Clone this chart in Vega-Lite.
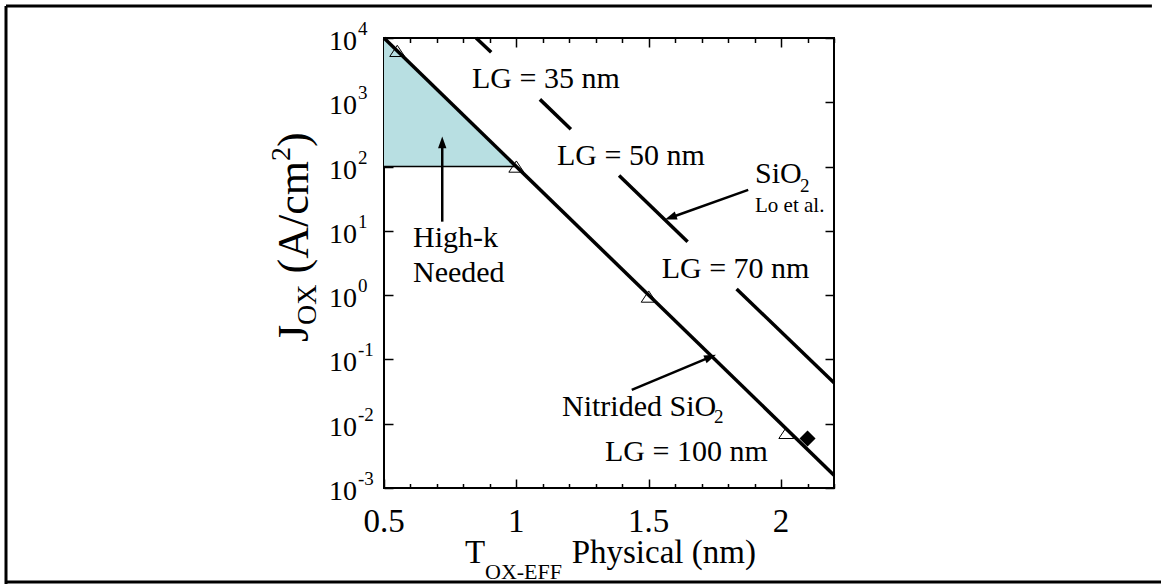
{
  "$schema": "https://vega.github.io/schema/vega-lite/v6.json",
  "width": 450,
  "height": 450,
  "autosize": "none",
  "padding": {"left": 384, "top": 38, "right": 327, "bottom": 96},
  "background": "white",
  "config": {
    "font": "Liberation Serif",
    "view": {"stroke": "black", "strokeWidth": 2},
    "text": {"font": "Liberation Serif", "color": "black"}
  },
  "datasets": {
    "frame": [
      {"part": "top", "t": -0.928, "t2": 3.401, "j": 31480, "j2": 31480},
      {"part": "left", "t": -0.928, "t2": -0.928, "j": 31480, "j2": 0.000026},
      {"part": "bottom", "t": -0.928, "t2": 3.45, "j": 0.0000345, "j2": 0.0000345}
    ],
    "shade": [
      {"t": 0.5, "j": 10000, "j0": 100},
      {"t": 1.0, "j": 100, "j0": 100}
    ],
    "base": [{"t": 0.5, "t2": 1.0, "j": 100}],
    "curves": [
      {"seg": "nitrided", "t": 0.5, "j": 10000},
      {"seg": "nitrided", "t": 2.2, "j": 0.001585},
      {"seg": "lo-a", "t": 0.848, "j": 10000},
      {"seg": "lo-a", "t": 0.905, "j": 5980},
      {"seg": "lo-b", "t": 1.089, "j": 1110},
      {"seg": "lo-b", "t": 1.206, "j": 382},
      {"seg": "lo-c", "t": 1.388, "j": 72.4},
      {"seg": "lo-c", "t": 1.647, "j": 6.78},
      {"seg": "lo-d", "t": 1.832, "j": 1.25},
      {"seg": "lo-d", "t": 2.2, "j": 0.0433}
    ],
    "measured": [
      {"t": 0.55, "j": 6300},
      {"t": 1.0, "j": 100},
      {"t": 1.5, "j": 0.95},
      {"t": 2.02, "j": 0.0072}
    ],
    "device": [{"t": 2.10, "j": 0.0059}],
    "shafts": [
      {"arrow": "highk", "t": 0.72, "j": 13.9},
      {"arrow": "highk", "t": 0.72, "j": 229},
      {"arrow": "lo", "t": 1.876, "j": 43.3},
      {"arrow": "lo", "t": 1.5865, "j": 16.3},
      {"arrow": "nit", "t": 1.436, "j": 0.0335},
      {"arrow": "nit", "t": 1.7297, "j": 0.1076}
    ],
    "heads": [
      {"arrow": "highk", "t": 0.72, "j": 229},
      {"arrow": "lo", "t": 1.5865, "j": 16.3},
      {"arrow": "nit", "t": 1.7297, "j": 0.1076}
    ],
    "notes": [
      {"text": "LG = 35 nm", "t": 0.8325, "j": 1667},
      {"text": "LG = 50 nm", "t": 1.1536, "j": 105.8},
      {"text": "LG = 70 nm", "t": 1.549, "j": 1.85},
      {"text": "Nitrided SiO", "t": 1.1725, "j": 0.01318},
      {"text": "LG = 100 nm", "t": 1.335, "j": 0.00266},
      {"text": "SiO", "t": 1.9016, "j": 55.5},
      {"text": "High-k", "t": 0.6096, "j": 5.67},
      {"text": "Needed", "t": 0.6096, "j": 1.618}
    ],
    "subscripts": [
      {"text": "2", "t": 1.747, "j": 0.01026},
      {"text": "2", "t": 2.0716, "j": 40.6}
    ],
    "smallnotes": [
      {"text": "Lo et al.", "t": 1.9016, "j": 19.87}
    ],
    "xlabels": [
      {"v": 0.5, "label": "0.5"},
      {"v": 1.0, "label": "1"},
      {"v": 1.5, "label": "1.5"},
      {"v": 2.0, "label": "2"}
    ],
    "ylabels": [
      {"v": 10000, "e": "4"},
      {"v": 1000, "e": "3"},
      {"v": 100, "e": "2"},
      {"v": 10, "e": "1"},
      {"v": 1, "e": "0"},
      {"v": 0.1, "e": "-1"},
      {"v": 0.01, "e": "-2"},
      {"v": 0.001, "e": "-3"}
    ],
    "xtitle": [
      {"text": "T", "size": "main", "t": 0.806, "j": 0.0000689},
      {"text": "OX-EFF", "size": "sub", "t": 0.8816, "j": 0.0000378},
      {"text": "Physical (nm)", "size": "main", "t": 1.209, "j": 0.0000689}
    ],
    "ytitle": [
      {"text": "J", "size": "main", "t": 0.2129, "j": 0.1866},
      {"text": "OX", "size": "sub", "t": 0.2431, "j": 0.3444},
      {"text": "(A/cm", "size": "main", "t": 0.2129, "j": 2.171},
      {"text": "2", "size": "sub", "t": 0.1449, "j": 121.6},
      {"text": ")", "size": "main", "t": 0.2129, "j": 200.9}
    ]
  },
  "resolve": {"axis": {"x": "independent", "y": "independent"}},
  "layer": [
    {
      "data": {"name": "shade"},
      "mark": {"type": "area", "color": "#b8dfe2", "opacity": 1},
      "encoding": {
        "x": {"field": "t", "type": "quantitative", "scale": {"domain": [0.5, 2.2], "nice": false, "zero": false},
          "axis": {"orient": "bottom", "values": [0.5, 0.6, 0.7, 0.8, 0.9, 1.0, 1.1, 1.2, 1.3, 1.4, 1.5, 1.6, 1.7, 1.8, 1.9, 2.0, 2.1, 2.2],
            "labels": false, "domain": false, "grid": false, "title": null, "tickColor": "black", "tickWidth": 1.5,
            "tickSize": {"condition": {"test": "abs(datum.value * 2 - round(datum.value * 2)) < 0.01", "value": -9}, "value": -4.5}}},
        "y": {"field": "j", "type": "quantitative", "stack": null, "scale": {"type": "log", "domain": [0.001, 10000], "nice": false},
          "axis": {"orient": "left", "values": [0.001, 0.01, 0.1, 1, 10, 100, 1000, 10000], "labels": false, "domain": false,
            "grid": false, "title": null, "tickColor": "black", "tickWidth": 1.5, "tickSize": -9}},
        "y2": {"field": "j0"}
      }
    },
    {
      "data": {"name": "base"},
      "mark": {"type": "rule", "color": "black", "strokeWidth": 1.5},
      "encoding": {
        "x": {"field": "t", "type": "quantitative", "scale": {"domain": [0.5, 2.2], "nice": false, "zero": false},
          "axis": {"orient": "top", "values": [0.5, 0.6, 0.7, 0.8, 0.9, 1.0, 1.1, 1.2, 1.3, 1.4, 1.5, 1.6, 1.7, 1.8, 1.9, 2.0, 2.1, 2.2],
            "labels": false, "domain": false, "grid": false, "title": null, "tickColor": "black", "tickWidth": 1.5,
            "tickSize": {"condition": {"test": "abs(datum.value * 2 - round(datum.value * 2)) < 0.01", "value": -9}, "value": -4.5}}},
        "x2": {"field": "t2"},
        "y": {"field": "j", "type": "quantitative", "scale": {"type": "log", "domain": [0.001, 10000], "nice": false},
          "axis": {"orient": "right", "values": [0.001, 0.01, 0.1, 1, 10, 100, 1000, 10000], "labels": false, "domain": false,
            "grid": false, "title": null, "tickColor": "black", "tickWidth": 1.5, "tickSize": -9}}
      }
    },
    {
      "data": {"name": "measured"},
      "mark": {"type": "point", "shape": "M0,-0.75L1,0.75L-1,0.75Z", "filled": false, "color": "black", "strokeWidth": 1, "size": 225, "opacity": 1},
      "encoding": {
        "x": {"field": "t", "type": "quantitative", "scale": {"domain": [0.5, 2.2], "nice": false, "zero": false}, "axis": null},
        "y": {"field": "j", "type": "quantitative", "scale": {"type": "log", "domain": [0.001, 10000], "nice": false}, "axis": null}
      }
    },
    {
      "data": {"name": "curves"},
      "mark": {"type": "line", "color": "black", "strokeWidth": 3.5, "strokeCap": "butt"},
      "encoding": {
        "x": {"field": "t", "type": "quantitative", "scale": {"domain": [0.5, 2.2], "nice": false, "zero": false}, "axis": null},
        "y": {"field": "j", "type": "quantitative", "scale": {"type": "log", "domain": [0.001, 10000], "nice": false}, "axis": null},
        "detail": {"field": "seg", "type": "nominal"}
      }
    },
    {
      "data": {"name": "device"},
      "mark": {"type": "point", "shape": "diamond", "filled": true, "color": "black", "size": 260, "opacity": 1},
      "encoding": {
        "x": {"field": "t", "type": "quantitative", "scale": {"domain": [0.5, 2.2], "nice": false, "zero": false}, "axis": null},
        "y": {"field": "j", "type": "quantitative", "scale": {"type": "log", "domain": [0.001, 10000], "nice": false}, "axis": null}
      }
    },
    {
      "data": {"name": "shafts"},
      "mark": {"type": "line", "color": "black", "strokeWidth": 2.5, "strokeCap": "butt"},
      "encoding": {
        "x": {"field": "t", "type": "quantitative", "scale": {"domain": [0.5, 2.2], "nice": false, "zero": false}, "axis": null},
        "y": {"field": "j", "type": "quantitative", "scale": {"type": "log", "domain": [0.001, 10000], "nice": false}, "axis": null},
        "detail": {"field": "arrow", "type": "nominal"}
      }
    },
    {
      "data": {"name": "heads"},
      "transform": [{"filter": "datum.arrow === 'highk'"}],
      "mark": {"type": "point", "shape": "M0,-1L0.6,0.7L-0.6,0.7Z", "filled": true, "color": "black", "size": 196, "angle": 0, "opacity": 1},
      "encoding": {
        "x": {"field": "t", "type": "quantitative", "scale": {"domain": [0.5, 2.2], "nice": false, "zero": false}, "axis": null},
        "y": {"field": "j", "type": "quantitative", "scale": {"type": "log", "domain": [0.001, 10000], "nice": false}, "axis": null}
      }
    },
    {
      "data": {"name": "heads"},
      "transform": [{"filter": "datum.arrow === 'lo'"}],
      "mark": {"type": "point", "shape": "M0,-1L0.6,0.7L-0.6,0.7Z", "filled": true, "color": "black", "size": 196, "angle": 250, "opacity": 1},
      "encoding": {
        "x": {"field": "t", "type": "quantitative", "scale": {"domain": [0.5, 2.2], "nice": false, "zero": false}, "axis": null},
        "y": {"field": "j", "type": "quantitative", "scale": {"type": "log", "domain": [0.001, 10000], "nice": false}, "axis": null}
      }
    },
    {
      "data": {"name": "heads"},
      "transform": [{"filter": "datum.arrow === 'nit'"}],
      "mark": {"type": "point", "shape": "M0,-1L0.6,0.7L-0.6,0.7Z", "filled": true, "color": "black", "size": 196, "angle": 67.5, "opacity": 1},
      "encoding": {
        "x": {"field": "t", "type": "quantitative", "scale": {"domain": [0.5, 2.2], "nice": false, "zero": false}, "axis": null},
        "y": {"field": "j", "type": "quantitative", "scale": {"type": "log", "domain": [0.001, 10000], "nice": false}, "axis": null}
      }
    },
    {
      "data": {"name": "notes"},
      "mark": {"type": "text", "font": "Liberation Serif", "fontSize": 30, "align": "left", "baseline": "alphabetic"},
      "encoding": {
        "x": {"field": "t", "type": "quantitative", "scale": {"domain": [0.5, 2.2], "nice": false, "zero": false}, "axis": null},
        "y": {"field": "j", "type": "quantitative", "scale": {"type": "log", "domain": [0.001, 10000], "nice": false}, "axis": null},
        "text": {"field": "text"}
      }
    },
    {
      "data": {"name": "subscripts"},
      "mark": {"type": "text", "font": "Liberation Serif", "fontSize": 19, "align": "left", "baseline": "alphabetic"},
      "encoding": {
        "x": {"field": "t", "type": "quantitative", "scale": {"domain": [0.5, 2.2], "nice": false, "zero": false}, "axis": null},
        "y": {"field": "j", "type": "quantitative", "scale": {"type": "log", "domain": [0.001, 10000], "nice": false}, "axis": null},
        "text": {"field": "text"}
      }
    },
    {
      "data": {"name": "smallnotes"},
      "mark": {"type": "text", "font": "Liberation Serif", "fontSize": 21, "align": "left", "baseline": "alphabetic"},
      "encoding": {
        "x": {"field": "t", "type": "quantitative", "scale": {"domain": [0.5, 2.2], "nice": false, "zero": false}, "axis": null},
        "y": {"field": "j", "type": "quantitative", "scale": {"type": "log", "domain": [0.001, 10000], "nice": false}, "axis": null},
        "text": {"field": "text"}
      }
    },
    {
      "data": {"name": "xlabels"},
      "mark": {"type": "text", "font": "Liberation Serif", "fontSize": 33, "align": "center", "baseline": "alphabetic", "dy": 44},
      "encoding": {
        "x": {"field": "v", "type": "quantitative", "scale": {"domain": [0.5, 2.2], "nice": false, "zero": false}, "axis": null},
        "y": {"datum": 0.001, "type": "quantitative", "scale": {"type": "log", "domain": [0.001, 10000], "nice": false}, "axis": null},
        "text": {"field": "label"}
      }
    },
    {
      "data": {"name": "ylabels"},
      "mark": {"type": "text", "font": "Liberation Serif", "fontSize": 28, "align": "right", "baseline": "alphabetic", "dx": -27, "dy": 12},
      "encoding": {
        "x": {"datum": 0.5, "type": "quantitative", "scale": {"domain": [0.5, 2.2], "nice": false, "zero": false}, "axis": null},
        "y": {"field": "v", "type": "quantitative", "scale": {"type": "log", "domain": [0.001, 10000], "nice": false}, "axis": null},
        "text": {"value": "10"}
      }
    },
    {
      "data": {"name": "ylabels"},
      "mark": {"type": "text", "font": "Liberation Serif", "fontSize": 19, "align": "left", "baseline": "alphabetic", "dx": -26, "dy": -3},
      "encoding": {
        "x": {"datum": 0.5, "type": "quantitative", "scale": {"domain": [0.5, 2.2], "nice": false, "zero": false}, "axis": null},
        "y": {"field": "v", "type": "quantitative", "scale": {"type": "log", "domain": [0.001, 10000], "nice": false}, "axis": null},
        "text": {"field": "e"}
      }
    },
    {
      "data": {"name": "xtitle"},
      "transform": [{"filter": "datum.size === 'main'"}],
      "mark": {"type": "text", "font": "Liberation Serif", "fontSize": 33, "align": "left", "baseline": "alphabetic"},
      "encoding": {
        "x": {"field": "t", "type": "quantitative", "scale": {"domain": [0.5, 2.2], "nice": false, "zero": false}, "axis": null},
        "y": {"field": "j", "type": "quantitative", "scale": {"type": "log", "domain": [0.001, 10000], "nice": false}, "axis": null},
        "text": {"field": "text"}
      }
    },
    {
      "data": {"name": "xtitle"},
      "transform": [{"filter": "datum.size === 'sub'"}],
      "mark": {"type": "text", "font": "Liberation Serif", "fontSize": 22, "align": "left", "baseline": "alphabetic"},
      "encoding": {
        "x": {"field": "t", "type": "quantitative", "scale": {"domain": [0.5, 2.2], "nice": false, "zero": false}, "axis": null},
        "y": {"field": "j", "type": "quantitative", "scale": {"type": "log", "domain": [0.001, 10000], "nice": false}, "axis": null},
        "text": {"field": "text"}
      }
    },
    {
      "data": {"name": "ytitle"},
      "transform": [{"filter": "datum.size === 'main'"}],
      "mark": {"type": "text", "font": "Liberation Serif", "fontSize": 44, "align": "left", "baseline": "alphabetic", "angle": 270},
      "encoding": {
        "x": {"field": "t", "type": "quantitative", "scale": {"domain": [0.5, 2.2], "nice": false, "zero": false}, "axis": null},
        "y": {"field": "j", "type": "quantitative", "scale": {"type": "log", "domain": [0.001, 10000], "nice": false}, "axis": null},
        "text": {"field": "text"}
      }
    },
    {
      "data": {"name": "ytitle"},
      "transform": [{"filter": "datum.size === 'sub'"}],
      "mark": {"type": "text", "font": "Liberation Serif", "fontSize": 28, "align": "left", "baseline": "alphabetic", "angle": 270},
      "encoding": {
        "x": {"field": "t", "type": "quantitative", "scale": {"domain": [0.5, 2.2], "nice": false, "zero": false}, "axis": null},
        "y": {"field": "j", "type": "quantitative", "scale": {"type": "log", "domain": [0.001, 10000], "nice": false}, "axis": null},
        "text": {"field": "text"}
      }
    },
    {
      "data": {"name": "frame"},
      "mark": {"type": "rule", "color": "black", "strokeWidth": 3},
      "encoding": {
        "x": {"field": "t", "type": "quantitative", "scale": {"domain": [0.5, 2.2], "nice": false, "zero": false}, "axis": null},
        "x2": {"field": "t2"},
        "y": {"field": "j", "type": "quantitative", "scale": {"type": "log", "domain": [0.001, 10000], "nice": false}, "axis": null},
        "y2": {"field": "j2"}
      }
    }
  ]
}
